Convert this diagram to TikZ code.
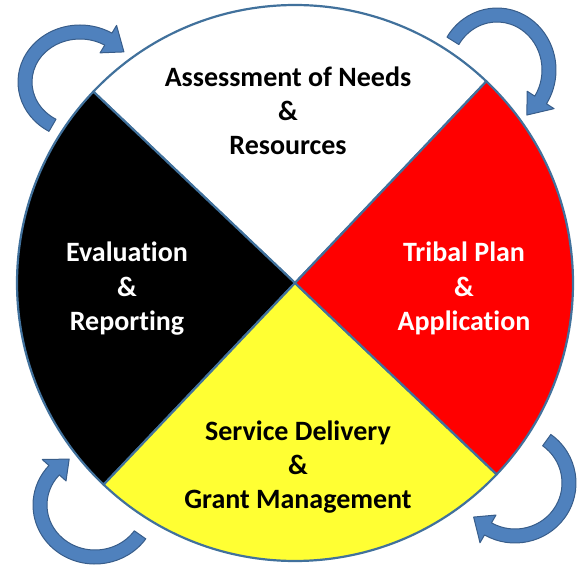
\documentclass[tikz,border=0pt]{standalone}
\usepackage{fontspec}
\setmainfont{Carlito}[Ligatures=NoCommon]
\usetikzlibrary{positioning, calc}

\definecolor{rimblue}{RGB}{65,113,156}
\definecolor{arrowfill}{RGB}{79,129,189}
\definecolor{arrowline}{RGB}{56,93,138}
\definecolor{wheelyellow}{RGB}{255,255,51}
\definecolor{wheelred}{RGB}{255,0,0}

\begin{document}
\begin{tikzpicture}[x=1pt, y=1pt,
  sector/.style={draw=rimblue, line width=2.2pt, line join=round},
  swoosh/.style={fill=arrowfill, draw=arrowline, line width=1pt, line join=round},
  caption/.style={font=\fontsize{28}{34}\selectfont\bfseries, align=center, anchor=base}]
\useasboundingbox (0,0) rectangle (577,565);
% the wheel
\begin{scope}[shift={(295,282)}]
\filldraw[sector, fill=white] (0,0) -- (46.5:278) arc[start angle=46.5, end angle=136.5, radius=278] -- cycle;
\filldraw[sector, fill=black] (0,0) -- (136.5:278) arc[start angle=136.5, end angle=226.5, radius=278] -- cycle;
\filldraw[sector, fill=wheelyellow] (0,0) -- (226.5:278) arc[start angle=226.5, end angle=316.5, radius=278] -- cycle;
\filldraw[sector, fill=wheelred] (0,0) -- (316.5:278) arc[start angle=316.5, end angle=406.5, radius=278] -- cycle;
\end{scope}
% curved arrows
\begin{scope}[shift={(80,483)}]
\filldraw[swoosh] (240:62 and 57) arc[start angle=240, end angle=59, x radius=62, y radius=57]
  -- (59:71 and 66) -- (37:55 and 50) -- (59:39 and 34) -- (59:48 and 43)
  arc[start angle=59, end angle=240, x radius=48, y radius=43] -- cycle;
\end{scope}
\begin{scope}[shift={(497,495)}]
\filldraw[swoosh] (148:59 and 62) arc[start angle=148, end angle=-33, x radius=59, y radius=62]
  -- (-33:68 and 71) -- (-55:52 and 55) -- (-33:36 and 39) -- (-33:45 and 48)
  arc[start angle=-33, end angle=148, x radius=45, y radius=48] -- cycle;
\end{scope}
\begin{scope}[shift={(515,82)}]
\filldraw[swoosh] (54:61 and 60) arc[start angle=54, end angle=-120, x radius=61, y radius=60]
  -- (-120:70 and 69) -- (-140:54 and 53) -- (-120:38 and 37) -- (-120:47 and 46)
  arc[start angle=-120, end angle=54, x radius=47, y radius=46] -- cycle;
\end{scope}
\begin{scope}[shift={(95,60)}]
\filldraw[swoosh] (-35:62 and 59) arc[start angle=-35, end angle=-222, x radius=62, y radius=59]
  -- (-222:71 and 68) -- (-242:55 and 52) -- (-222:39 and 36) -- (-222:48 and 45)
  arc[start angle=-222, end angle=-35, x radius=48, y radius=45] -- cycle;
\end{scope}
% texts (base = last line)
\node[caption] (needs) at (288,410) {Assessment of Needs\\\&\\Resources};
\node[caption, text=white] (evaluation) at (127,235) {Evaluation\\\&\\Reporting};
\node[caption, text=white] (plan) at (464,235) {Tribal Plan\\\&\\Application};
\node[caption] (delivery) at (298,57) {Service Delivery\\\&\\Grant Management};
\end{tikzpicture}
\end{document}
